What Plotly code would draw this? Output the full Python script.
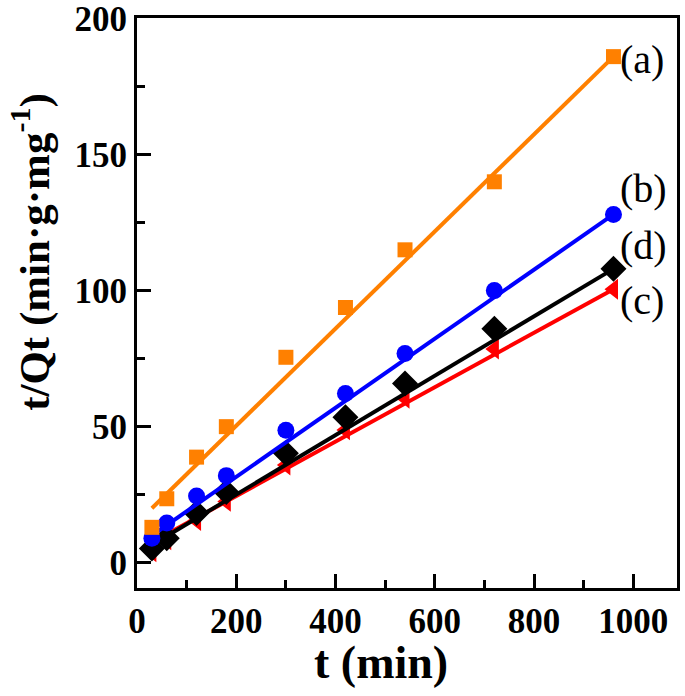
import plotly.graph_objects as go

# time points (min)
t_min = [30, 60, 120, 180, 300, 420, 540, 720, 960]

# t/Qt values
series_a = [13, 23.5, 38.8, 50, 75.5, 93.8, 115, 140, 186]
series_b = [9, 14.6, 24.5, 32, 48.7, 62.2, 76.9, 100, 128]
series_c = [4, 8.4, 15.5, 22.5, 35.9, 48.8, 60.4, 78.5, 100.5]
series_d = [5.2, 9, 18.3, 26, 40.2, 53.5, 65.9, 86, 108]

# fitted-line endpoints
fit_t = [30, 960]
fit_a = [20, 186]
fit_b = [10, 128]
fit_c = [7.5, 100.5]
fit_d = [6.5, 108]

labels = ["(a)", "(b)", "(c)", "(d)"]
label_y = [185, 137.5, 96.5, 116.5]

x_title = "t (min)"
y_title = "t/Qt (min·g·mg<sup>-1</sup>)"

FONT = "Liberation Serif"

fig = go.Figure()

def add_series(y, fit, color, symbol, size):
    fig.add_trace(go.Scatter(x=t_min, y=y, mode="markers",
                             marker=dict(symbol=symbol, size=size, color=color,
                                         line=dict(width=0)),
                             showlegend=False))
    fig.add_trace(go.Scatter(x=fit_t, y=fit, mode="lines",
                             line=dict(color=color, width=4),
                             showlegend=False))

add_series(series_c, fit_c, "#FF0000", "triangle-left", 18)
add_series(series_d, fit_d, "#000000", "diamond", 20)
add_series(series_b, fit_b, "#0000FF", "circle", 17)
add_series(series_a, fit_a, "#FF8000", "square", 15)

for lab, ly in zip(labels, label_y):
    fig.add_annotation(x=970, y=ly, text=lab, showarrow=False,
                       xanchor="left", yanchor="middle",
                       font=dict(family=FONT, size=40, color="black"))

# axis titles placed as annotations (the reference titles are off-centre)
fig.add_annotation(xref="paper", yref="paper", x=0.451, y=-0.13, text=x_title,
                   showarrow=False, xanchor="center", yanchor="middle",
                   font=dict(family=FONT, size=46, color="black", weight="bold"))
fig.add_annotation(xref="paper", yref="paper", x=-0.196, y=0.59, text=y_title,
                   textangle=-90, showarrow=False, xanchor="center", yanchor="middle",
                   font=dict(family=FONT, size=43, color="black", weight="bold"))

axis_common = dict(
    showline=True, linecolor="black", linewidth=3, mirror=True,
    ticks="inside", ticklen=14, tickwidth=3, tickcolor="black",
    showgrid=False, zeroline=False, automargin=False,
    ticklabeloverflow="allow",
    tickfont=dict(family=FONT, size=35, color="black", weight="bold"),
)

fig.update_xaxes(range=[0, 1088], tickmode="array",
                 tickvals=[0, 200, 400, 600, 800, 1000],
                 minor=dict(tickmode="array", tickvals=[100, 300, 500, 700, 900],
                            ticks="inside", ticklen=8, tickwidth=3, tickcolor="black"),
                 **axis_common)
fig.update_yaxes(range=[-9.3, 200.2], tickmode="array",
                 tickvals=[0, 50, 100, 150, 200],
                 minor=dict(tickmode="array", tickvals=[25, 75, 125, 175],
                            ticks="inside", ticklen=8, tickwidth=3, tickcolor="black"),
                 **axis_common)

fig.update_layout(width=685, height=696, plot_bgcolor="white", paper_bgcolor="white",
                  margin=dict(l=137, r=8, t=18, b=108))

fig.write_html("out.html", config={"displayModeBar": False},
               post_script="document.body.style.margin='0px';")
